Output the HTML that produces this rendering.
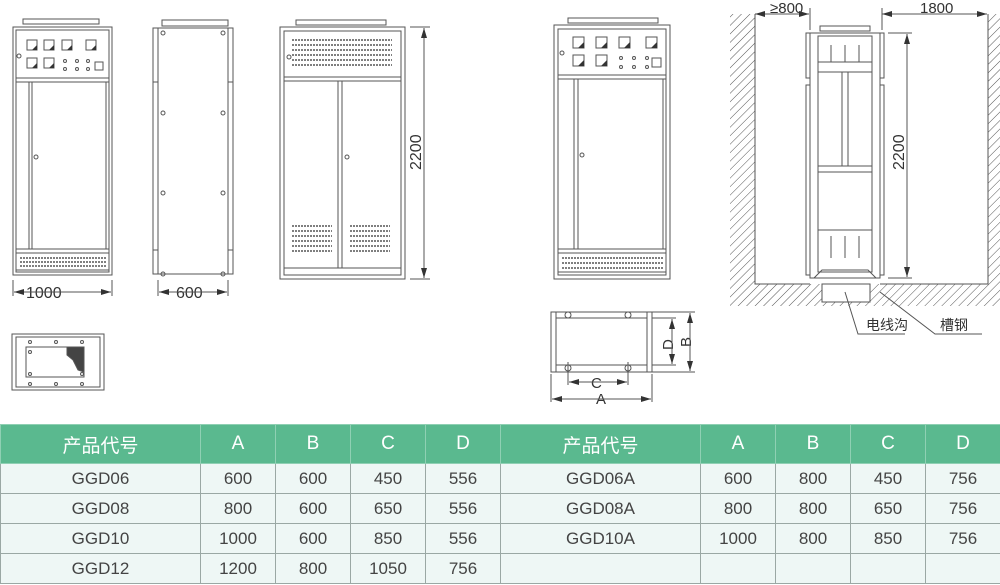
<!DOCTYPE html>
<html><head><meta charset="utf-8"><style>
body{margin:0;background:#fff;width:1000px;height:585px;overflow:hidden;font-family:"Liberation Sans","Noto Sans CJK SC",sans-serif}
svg{position:absolute;left:0;top:0}
table{position:absolute;left:0;top:424px;width:1000px;border-collapse:collapse;table-layout:fixed}
td{height:29px;border:1px solid #9aa8a4;text-align:center;font-size:17px;color:#444;background:#eef7f5;padding:0}
tr.h td{height:38px;background:#5ab98f;color:#fff;border-color:#8fd0b3;font-size:19px}
</style></head><body>
<svg width="1000" height="424" viewBox="0 0 1000 424" fill="none" stroke="#555" stroke-width="1">
<defs>
<pattern id="hat" width="6" height="6" patternUnits="userSpaceOnUse" patternTransform="rotate(45)"><line x1="0" y1="0" x2="0" y2="6" stroke="#555" stroke-width="1"/></pattern>
<marker id="ar" viewBox="0 0 10 6" refX="10" refY="3" markerWidth="10" markerHeight="6" orient="auto-start-reverse"><path d="M0,0L10,3L0,6z" fill="#333" stroke="none"/></marker>
</defs>
<g font-family="Liberation Sans" font-size="16" fill="#333" stroke="none">
<text x="26" y="298">1000</text><text x="176" y="298">600</text>
<text x="770" y="13" font-size="15">≥800</text><text x="920" y="13" font-size="15">1800</text>
<text transform="translate(421,170) rotate(-90)">2200</text>
<text transform="translate(904,170) rotate(-90)">2200</text>
<text x="591" y="388" font-size="15">C</text><text x="596" y="404" font-size="15">A</text>
<text transform="translate(673,350) rotate(-90)" font-size="15">D</text>
<text transform="translate(691,347) rotate(-90)" font-size="15">B</text>
<text x="866" y="330" font-size="14" font-family="Noto Sans CJK SC">电线沟</text>
<text x="940" y="330" font-size="14" font-family="Noto Sans CJK SC">槽钢</text>
</g>
<!-- cabinet 1 -->
<g>
<rect x="23" y="19" width="76" height="5"/><rect x="13" y="27" width="99" height="248"/><rect x="16" y="30" width="93" height="242"/>
<line x1="16" y1="78" x2="109" y2="78"/><line x1="16" y1="82" x2="109" y2="82"/>
<line x1="29" y1="82" x2="29" y2="249"/><line x1="32" y1="82" x2="32" y2="249"/><line x1="106" y1="82" x2="106" y2="249"/>
<line x1="16" y1="249" x2="109" y2="249"/><line x1="16" y1="253" x2="109" y2="253"/><line x1="16" y1="270" x2="109" y2="270"/>
<g stroke-dasharray="2,1" stroke-width="1.4"><line x1="20" y1="258" x2="106" y2="258"/><line x1="20" y1="262" x2="106" y2="262"/><line x1="20" y1="266" x2="106" y2="266"/></g>
<g fill="#fff"><rect x="27" y="40" width="10" height="10"/><rect x="44" y="40" width="10" height="10"/><rect x="62" y="40" width="10" height="10"/><rect x="86" y="40" width="10" height="10"/><rect x="27" y="58" width="10" height="10"/><rect x="44" y="58" width="10" height="10"/><rect x="95" y="62" width="8" height="8"/></g>
<g fill="#333" stroke="none"><path d="M37,45L37,50L32,50z"/><path d="M54,45L54,50L49,50z"/><path d="M72,45L72,50L67,50z"/><path d="M96,45L96,50L91,50z"/><path d="M37,63L37,68L32,68z"/><path d="M54,63L54,68L49,68z"/></g>
<g><circle cx="65" cy="61" r="1.5"/><circle cx="77" cy="61" r="1.5"/><circle cx="88" cy="61" r="1.5"/><circle cx="65" cy="69" r="1.5"/><circle cx="77" cy="69" r="1.5"/><circle cx="88" cy="69" r="1.5"/><circle cx="19" cy="56" r="2"/><circle cx="36" cy="157" r="2"/></g>
<line x1="13" y1="280" x2="13" y2="296"/><line x1="112" y1="280" x2="112" y2="296"/>
<line x1="14" y1="292" x2="111" y2="292" marker-start="url(#ar)" marker-end="url(#ar)"/>
</g>
<!-- cabinet 2 side -->
<g>
<rect x="162" y="20" width="66" height="6"/><rect x="153" y="28" width="80" height="246"/><rect x="158" y="28" width="70" height="246"/>
<rect x="153" y="82" width="5" height="168"/><rect x="228" y="82" width="5" height="168"/>
<g><circle cx="163" cy="33" r="2"/><circle cx="223" cy="33" r="2"/><circle cx="163" cy="113" r="2"/><circle cx="223" cy="113" r="2"/><circle cx="163" cy="193" r="2"/><circle cx="223" cy="193" r="2"/><circle cx="163" cy="274" r="2"/><circle cx="223" cy="274" r="2"/></g>
<line x1="158" y1="280" x2="158" y2="296"/><line x1="228" y1="280" x2="228" y2="296"/>
<line x1="159" y1="292" x2="227" y2="292" marker-start="url(#ar)" marker-end="url(#ar)"/>
</g>
<!-- cabinet 3 -->
<g>
<rect x="296" y="20" width="90" height="5"/><rect x="280" y="27" width="125" height="252"/><rect x="284" y="31" width="117" height="244"/>
<line x1="284" y1="77" x2="401" y2="77"/><line x1="284" y1="81" x2="401" y2="81"/>
<line x1="338" y1="81" x2="338" y2="268"/><line x1="342" y1="81" x2="342" y2="268"/>
<line x1="284" y1="268" x2="401" y2="268"/>
<g stroke-dasharray="2,1" stroke-width="1.4"><line x1="292" y1="40" x2="392" y2="40"/><line x1="292" y1="45" x2="392" y2="45"/><line x1="292" y1="50" x2="392" y2="50"/><line x1="292" y1="55" x2="392" y2="55"/><line x1="292" y1="60" x2="392" y2="60"/><line x1="292" y1="65" x2="392" y2="65"/>
<line x1="292" y1="226" x2="332" y2="226"/><line x1="292" y1="231" x2="332" y2="231"/><line x1="292" y1="236" x2="332" y2="236"/><line x1="292" y1="241" x2="332" y2="241"/><line x1="292" y1="246" x2="332" y2="246"/><line x1="292" y1="251" x2="332" y2="251"/>
<line x1="350" y1="226" x2="390" y2="226"/><line x1="350" y1="231" x2="390" y2="231"/><line x1="350" y1="236" x2="390" y2="236"/><line x1="350" y1="241" x2="390" y2="241"/><line x1="350" y1="246" x2="390" y2="246"/><line x1="350" y1="251" x2="390" y2="251"/></g>
<circle cx="289" cy="57" r="2"/><circle cx="347" cy="157" r="2"/>
<line x1="410" y1="27" x2="430" y2="27"/><line x1="410" y1="279" x2="430" y2="279"/>
<line x1="424" y1="28" x2="424" y2="278" marker-start="url(#ar)" marker-end="url(#ar)"/>
</g>
<!-- cabinet 4 -->
<g>
<rect x="568" y="18" width="90" height="5"/><rect x="554" y="25" width="116" height="254"/><rect x="558" y="29" width="108" height="246"/>
<line x1="558" y1="75" x2="666" y2="75"/><line x1="558" y1="79" x2="666" y2="79"/>
<line x1="574" y1="79" x2="574" y2="249"/><line x1="578" y1="79" x2="578" y2="249"/><line x1="663" y1="79" x2="663" y2="249"/>
<line x1="558" y1="249" x2="666" y2="249"/><line x1="558" y1="253" x2="666" y2="253"/><line x1="558" y1="272" x2="666" y2="272"/>
<g stroke-dasharray="2,1" stroke-width="1.4"><line x1="562" y1="258" x2="663" y2="258"/><line x1="562" y1="263" x2="663" y2="263"/><line x1="562" y1="268" x2="663" y2="268"/></g>
<g fill="#fff"><rect x="573" y="37" width="11" height="11"/><rect x="596" y="37" width="11" height="11"/><rect x="619" y="37" width="11" height="11"/><rect x="646" y="37" width="11" height="11"/><rect x="573" y="55" width="11" height="11"/><rect x="596" y="55" width="11" height="11"/><rect x="652" y="58" width="9" height="9"/></g>
<g fill="#333" stroke="none"><path d="M584,42L584,48L578,48z"/><path d="M607,42L607,48L601,48z"/><path d="M630,42L630,48L624,48z"/><path d="M657,42L657,48L651,48z"/><path d="M584,60L584,66L578,66z"/><path d="M607,60L607,66L601,66z"/></g>
<circle cx="621" cy="58" r="1.5"/><circle cx="634" cy="58" r="1.5"/><circle cx="647" cy="58" r="1.5"/><circle cx="621" cy="67" r="1.5"/><circle cx="634" cy="67" r="1.5"/><circle cx="647" cy="67" r="1.5"/><circle cx="562" cy="53" r="2"/><circle cx="582" cy="155" r="2"/>
</g>
<!-- right scene -->
<g>
<rect x="730" y="14" width="25" height="270" fill="url(#hat)" stroke="none"/>
<rect x="988" y="14" width="12" height="270" fill="url(#hat)" stroke="none"/>
<rect x="730" y="284" width="270" height="22" fill="url(#hat)" stroke="none"/>
<path d="M755,14V284H810M880,284H988V14"/>
<rect x="822" y="284" width="48" height="18" fill="#fff"/>
<rect x="810" y="33" width="70" height="245"/><rect x="818" y="36" width="54" height="236"/>
<rect x="806" y="33" width="4" height="45"/><rect x="806" y="85" width="4" height="190"/><rect x="880" y="33" width="4" height="45"/><rect x="880" y="85" width="4" height="190"/>
<rect x="820" y="26" width="50" height="5"/>
<line x1="818" y1="62" x2="872" y2="62"/><line x1="818" y1="72" x2="872" y2="72"/>
<line x1="842" y1="72" x2="842" y2="166"/><line x1="848" y1="72" x2="848" y2="166"/>
<line x1="818" y1="166" x2="872" y2="166"/><line x1="818" y1="172" x2="872" y2="172"/>
<line x1="818" y1="230" x2="872" y2="230"/>
<line x1="831" y1="45" x2="831" y2="62"/><line x1="845" y1="45" x2="845" y2="62"/><line x1="859" y1="45" x2="859" y2="62"/>
<line x1="831" y1="236" x2="831" y2="258"/><line x1="845" y1="236" x2="845" y2="258"/><line x1="859" y1="236" x2="859" y2="258"/>
<path d="M814,278L822,270H868L876,278"/>
<line x1="755" y1="14" x2="809" y2="14" marker-start="url(#ar)" marker-end="url(#ar)"/>
<line x1="882" y1="14" x2="987" y2="14" marker-start="url(#ar)" marker-end="url(#ar)"/>
<line x1="810" y1="8" x2="810" y2="30"/><line x1="882" y1="8" x2="882" y2="30"/>
<line x1="888" y1="33" x2="912" y2="33"/><line x1="888" y1="278" x2="912" y2="278"/>
<line x1="907" y1="34" x2="907" y2="277" marker-start="url(#ar)" marker-end="url(#ar)"/>
<path d="M845,292L858,334H905"/><path d="M880,292L935,334H982"/>
</g>
<!-- plan left -->
<g>
<rect x="12" y="334" width="92" height="56"/><rect x="16" y="337" width="84" height="50"/><rect x="26" y="347" width="58" height="30"/>
<path d="M67,347H84V372L78,370L73,360L67,355z" fill="#444"/>
<circle cx="30" cy="342" r="1.5"/><circle cx="56" cy="342" r="1.5"/><circle cx="82" cy="342" r="1.5"/><circle cx="30" cy="384" r="1.5"/><circle cx="56" cy="384" r="1.5"/><circle cx="82" cy="384" r="1.5"/><circle cx="30" cy="352" r="1.5"/><circle cx="30" cy="374" r="1.5"/><circle cx="82" cy="374" r="1.5"/>
</g>
<!-- plan mid -->
<g>
<rect x="551" y="312" width="101" height="60"/><rect x="556" y="312" width="91" height="60"/>
<line x1="556" y1="318" x2="647" y2="318"/><line x1="556" y1="365" x2="647" y2="365"/>
<circle cx="568" cy="315" r="3"/><circle cx="628" cy="315" r="3"/><circle cx="568" cy="368" r="3"/><circle cx="628" cy="368" r="3"/>
<line x1="568" y1="362" x2="568" y2="385"/><line x1="628" y1="362" x2="628" y2="385"/>
<line x1="569" y1="382" x2="627" y2="382" marker-start="url(#ar)" marker-end="url(#ar)"/>
<line x1="551" y1="374" x2="551" y2="402"/><line x1="652" y1="374" x2="652" y2="402"/>
<line x1="552" y1="399" x2="651" y2="399" marker-start="url(#ar)" marker-end="url(#ar)"/>
<line x1="652" y1="312" x2="695" y2="312"/><line x1="652" y1="372" x2="695" y2="372"/><line x1="652" y1="318" x2="676" y2="318"/><line x1="652" y1="365" x2="676" y2="365"/>
<line x1="672" y1="319" x2="672" y2="364" marker-start="url(#ar)" marker-end="url(#ar)"/>
<line x1="690" y1="313" x2="690" y2="371" marker-start="url(#ar)" marker-end="url(#ar)"/>
</g>
</svg>
<table>
<colgroup><col style="width:200px"><col style="width:75px"><col style="width:75px"><col style="width:75px"><col style="width:75px"><col style="width:200px"><col style="width:75px"><col style="width:75px"><col style="width:75px"><col style="width:75px"></colgroup>
<tr class="h"><td>产品代号</td><td>A</td><td>B</td><td>C</td><td>D</td><td>产品代号</td><td>A</td><td>B</td><td>C</td><td>D</td></tr>
<tr><td>GGD06</td><td>600</td><td>600</td><td>450</td><td>556</td><td>GGD06A</td><td>600</td><td>800</td><td>450</td><td>756</td></tr>
<tr><td>GGD08</td><td>800</td><td>600</td><td>650</td><td>556</td><td>GGD08A</td><td>800</td><td>800</td><td>650</td><td>756</td></tr>
<tr><td>GGD10</td><td>1000</td><td>600</td><td>850</td><td>556</td><td>GGD10A</td><td>1000</td><td>800</td><td>850</td><td>756</td></tr>
<tr><td>GGD12</td><td>1200</td><td>800</td><td>1050</td><td>756</td><td></td><td></td><td></td><td></td><td></td></tr>
</table>
</body></html>
